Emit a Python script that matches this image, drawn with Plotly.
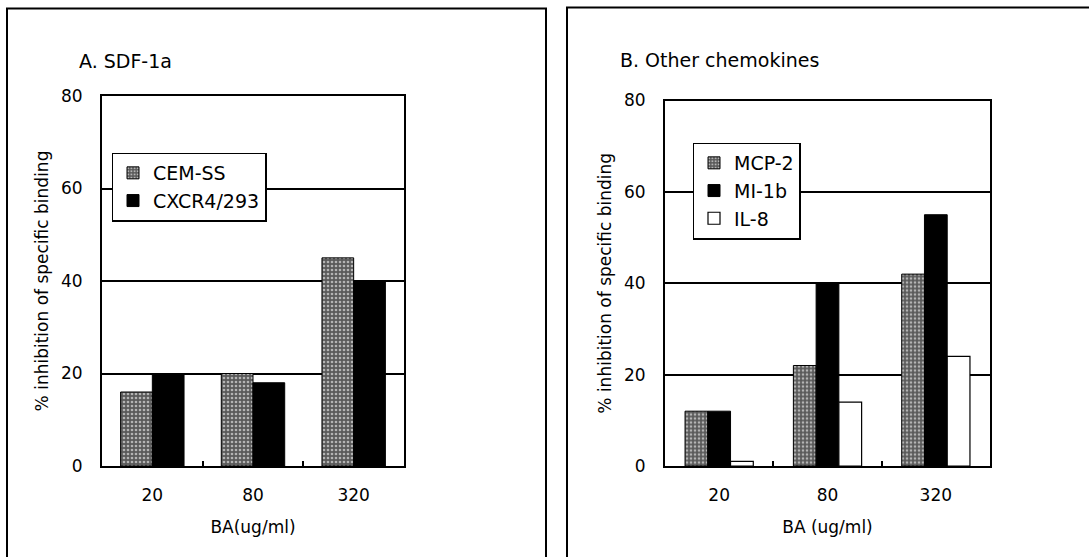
import plotly.graph_objects as go

# ---- data ----
doses = ["20", "80", "320"]
cem_ss = [16, 20, 45]
cxcr4_293 = [20, 18, 40]
mcp2 = [12, 22, 42]
mi1b = [12, 40, 55]
il8 = [1, 14, 24]
y_ticks = [0, 20, 40, 60, 80]

W, H = 1089, 557
FONT = "DejaVu Sans"

def px(x):
    return x / W

def py(y):
    return 1 - y / H

gray = dict(color="#5a5a5a",
            pattern=dict(shape=".", fgcolor="#b4b4b4", bgcolor="#5a5a5a", size=4, solidity=0.35),
            line=dict(color="black", width=1))
black = dict(color="black", line=dict(color="black", width=1))
white = dict(color="white", line=dict(color="black", width=1.2))

fig = go.Figure()
fig.add_trace(go.Bar(x=doses, y=cem_ss, name="CEM-SS", marker=gray,
                     xaxis="x", yaxis="y", legend="legend", legendgroup="a1"))
fig.add_trace(go.Bar(x=doses, y=cxcr4_293, name="CXCR4/293", marker=black,
                     xaxis="x", yaxis="y", legend="legend", legendgroup="a2"))
fig.add_trace(go.Bar(x=doses, y=mcp2, name="MCP-2", marker=gray,
                     xaxis="x2", yaxis="y2", legend="legend2", legendgroup="b1"))
fig.add_trace(go.Bar(x=doses, y=mi1b, name="MI-1b", marker=black,
                     xaxis="x2", yaxis="y2", legend="legend2", legendgroup="b2"))
fig.add_trace(go.Bar(x=doses, y=il8, name="IL-8", marker=white,
                     xaxis="x2", yaxis="y2", legend="legend2", legendgroup="b3"))

xcommon = dict(type="category", showline=True, linecolor="black", linewidth=2, mirror=True,
               ticks="inside", tickson="boundaries", ticklen=5, tickwidth=2, tickcolor="black",
               showgrid=False, ticklabelstandoff=13, automargin=False,
               tickfont=dict(family=FONT, size=17, color="black"))
ycommon = dict(range=[0, 80], tickvals=y_ticks, showline=True, linecolor="black", linewidth=2,
               mirror=True, ticks="", showgrid=True, gridcolor="black", gridwidth=1.5,
               zeroline=False, ticklabelstandoff=14, automargin=False,
               tickfont=dict(family=FONT, size=17, color="black"))

fig.update_layout(
    template="none",
    width=W, height=H, autosize=False,
    margin=dict(l=0, r=0, t=0, b=0, pad=0),
    paper_bgcolor="white", plot_bgcolor="white",
    barmode="group", bargap=0.37, bargroupgap=0,
    font=dict(family=FONT, color="black"),
    xaxis=dict(xcommon, domain=[px(102), px(404)], anchor="y",
               title=dict(text="BA(ug/ml)", font=dict(family=FONT, size=17), standoff=17)),
    yaxis=dict(ycommon, domain=[py(466), py(96)], anchor="x",
               title=dict(text="% inhibition of specific binding", font=dict(family=FONT, size=17), standoff=8)),
    xaxis2=dict(xcommon, domain=[px(665), px(990)], anchor="y2",
                title=dict(text="BA (ug/ml)", font=dict(family=FONT, size=17), standoff=17)),
    yaxis2=dict(ycommon, domain=[py(466), py(100.5)], anchor="x2",
                title=dict(text="% inhibition of specific binding", font=dict(family=FONT, size=17), standoff=8)),
    legend=dict(x=px(111.5), y=py(152.5), xanchor="left", yanchor="top",
                bgcolor="white", bordercolor="black", borderwidth=1.5,
                font=dict(family=FONT, size=19, color="black"), tracegroupgap=10,
                traceorder="normal"),
    legend2=dict(x=px(692.5), y=py(142.5), xanchor="left", yanchor="top",
                 bgcolor="white", bordercolor="black", borderwidth=1.5,
                 font=dict(family=FONT, size=19, color="black"), tracegroupgap=7,
                 traceorder="normal"),
    annotations=[
        dict(text="A. SDF-1a", x=px(77), y=py(61), xref="paper", yref="paper",
             xanchor="left", yanchor="middle", showarrow=False,
             font=dict(family=FONT, size=19, color="black")),
        dict(text="B. Other chemokines", x=px(618), y=py(60), xref="paper", yref="paper",
             xanchor="left", yanchor="middle", showarrow=False,
             font=dict(family=FONT, size=19, color="black")),
    ],
    shapes=[
        dict(type="path", xref="paper", yref="paper",
             path=f"M {px(7)} {py(565)} L {px(7)} {py(8.5)} L {px(546)} {py(8.5)} L {px(546)} {py(565)}",
             line=dict(color="black", width=2)),
        dict(type="path", xref="paper", yref="paper",
             path=f"M {px(567)} {py(565)} L {px(567)} {py(7.5)} L {px(1095)} {py(7.5)}",
             line=dict(color="black", width=2)),
    ],
)

fig.write_html(
    "out.html",
    config={"displayModeBar": False},
    post_script="document.body.style.margin='0';document.body.style.padding='0';"
                "document.documentElement.style.overflow='hidden';",
)
